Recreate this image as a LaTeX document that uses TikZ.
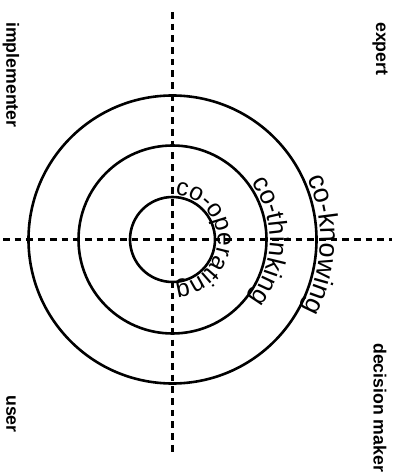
\documentclass[tikz,border=0pt]{standalone}
\usepackage{fontspec}
\setmainfont{Liberation Sans}
\usetikzlibrary{calc,decorations.text}

\begin{document}
\begin{tikzpicture}[x=1pt,y=1pt,
  ring/.style={draw=black,line width=2.6pt},
  axis/.style={draw=black,line width=2.2pt,dash pattern=on 6.7pt off 5pt},
  role/.style={font=\fontsize{17.7}{18}\selectfont\bfseries,rotate=-90,anchor=west,inner sep=0pt},
  ringtext/.style={decorate,decoration={text along path,text align=center,text={#1}}}]

\path[use as bounding box] (0,0) rectangle (405,475);
\coordinate (c) at (172.5,235.5);

% dashed axes
\coordinate (axtop) at (172.5,463);
\coordinate (axbot) at (172.5,23);
\coordinate (axleft) at (3,235.5);
\coordinate (axright) at (392,235.5);
\draw[axis] (axtop) -- (axbot);
\draw[axis] (axleft) -- (axright);

% rings
\draw[ring] (c) circle[radius=144];
\draw[ring] (c) circle[radius=94];
\draw[ring] (c) circle[radius=42.5];

% ring labels
\path[ringtext={|\fontsize{27}{29}\selectfont|co-knowing}]
  ($(c)+(68:148)$) arc[start angle=68,end angle=-72,radius=148];
\path[ringtext={|\fontsize{26}{28}\selectfont|co-thinking}]
  ($(c)+(79:97.5)$) arc[start angle=79,end angle=-81,radius=97.5];
\path[ringtext={|\fontsize{24.5}{26}\selectfont|co-operating}]
  ($(c)+(89:45)$) arc[start angle=89,end angle=-89,radius=45];

% corner roles
\node[role] (expert) at (380,453) {expert};
\node[role] (implementer) at (11,453) {implementer};
\node[role] (user) at (11,80) {user};
\node[role] (maker) at (380,132) {decision maker};

\end{tikzpicture}
\end{document}
